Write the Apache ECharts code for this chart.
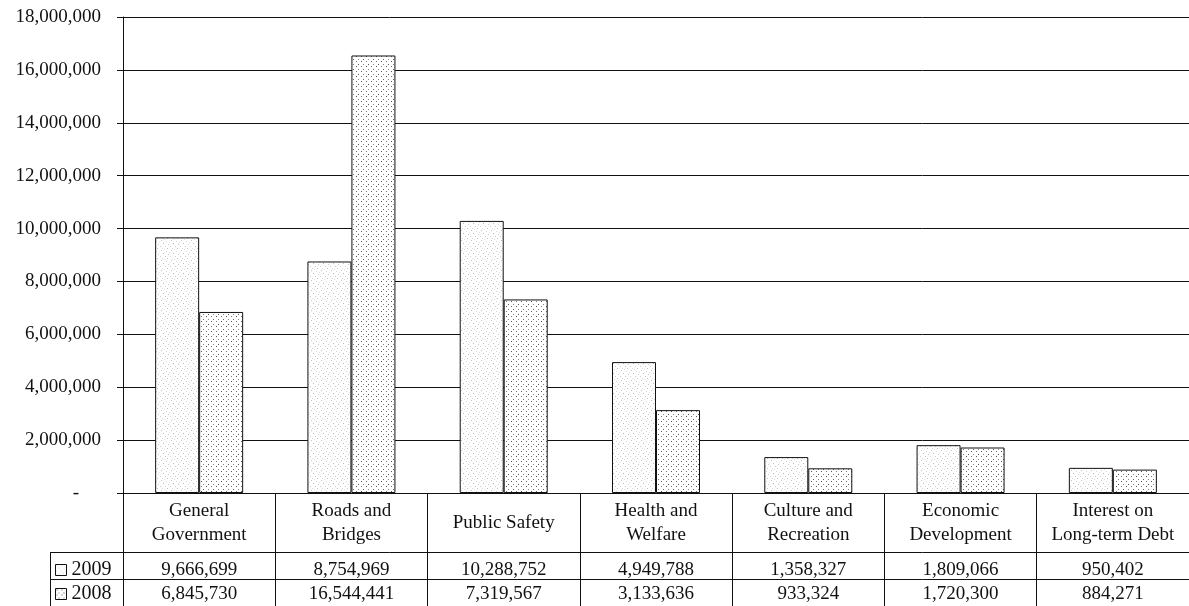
<!DOCTYPE html>
<html><head><meta charset="utf-8">
<script src="https://cdn.jsdelivr.net/npm/echarts@6/dist/echarts.min.js"></script>
<style>html,body{margin:0;padding:0;background:#fff}#c{width:1189px;height:606px}</style>
</head><body><div id="c"></div>
<script>
const categories = ['General\nGovernment', 'Roads and\nBridges', 'Public Safety', 'Health and\nWelfare', 'Culture and\nRecreation', 'Economic\nDevelopment', 'Interest on\nLong-term Debt'];
const values2009 = [9666699, 8754969, 10288752, 4949788, 1358327, 1809066, 950402];
const values2008 = [6845730, 16544441, 7319567, 3133636, 933324, 1720300, 884271];
const seriesNames = ['2009', '2008'];
const yMin = 0, yMax = 18000000, yInterval = 2000000;

const FONT = 'Liberation Serif';
const fmt = v => v.toLocaleString('en-US');

function makePattern(size, dots) {
  const c = document.createElement('canvas');
  c.width = size; c.height = size;
  const g = c.getContext('2d');
  g.fillStyle = '#fff'; g.fillRect(0, 0, size, size);
  dots.forEach(d => { g.fillStyle = d[2]; g.fillRect(d[0], d[1], 1, 1); });
  return c;
}
const pat2009 = makePattern(10, [[1,0,'#c4c4c4'],[6,1,'#d4d4d4'],[3,3,'#bbb'],[8,4,'#ccc'],[0,6,'#d0d0d0'],[5,6,'#c8c8c8'],[2,8,'#d8d8d8'],[7,8,'#c0c0c0'],[9,2,'#e0e0e0'],[4,9,'#ddd']]);
const pat2008 = makePattern(10, [[1,1,'#555'],[6,1,'#777'],[3,4,'#888'],[8,4,'#555'],[1,6,'#777'],[6,6,'#555'],[3,9,'#666'],[8,9,'#888']]);

const chart = echarts.init(document.getElementById('c'), null, {renderer: 'canvas'});
const lineStyle = {color: '#111', width: 1};
const labelBase = {fontFamily: FONT, fontSize: 19, color: '#111'};

const legendBase = {
  orient: 'horizontal', left: 55, padding: 0, icon: 'rect', itemWidth: 11, itemHeight: 11,
  selectedMode: false, textStyle: Object.assign({}, labelBase, {fontSize: 20}),
  itemStyle: {borderColor: '#111', borderWidth: 1}
};

chart.setOption({
  animation: false,
  grid: {left: 123, right: 0, top: 17, bottom: 113, containLabel: false},
  legend: [
    Object.assign({}, legendBase, {data: [seriesNames[0]], top: 560}),
    Object.assign({}, legendBase, {data: [seriesNames[1]], top: 584})
  ],
  xAxis: [
    {type: 'category', data: categories, position: 'bottom',
     axisLine: {show: true, lineStyle},
     axisTick: {show: true, interval: 0, length: 113, lineStyle},
     axisLabel: Object.assign({}, labelBase, {interval: 0, margin: 30, verticalAlign: 'middle', lineHeight: 24, align: 'center'}),
     splitLine: {show: false}},
    {type: 'category', data: categories, position: 'bottom', offset: 59,
     axisLine: {show: true, lineStyle}, axisTick: {show: false},
     axisLabel: Object.assign({}, labelBase, {interval: 0, margin: 18, verticalAlign: 'middle', formatter: (v, i) => fmt(values2009[i])})},
    {type: 'category', data: categories, position: 'bottom', offset: 86,
     axisLine: {show: true, lineStyle}, axisTick: {show: false},
     axisLabel: Object.assign({}, labelBase, {interval: 0, margin: 15, verticalAlign: 'middle', formatter: (v, i) => fmt(values2008[i])})}
  ],
  yAxis: {
    type: 'value', min: yMin, max: yMax, interval: yInterval,
    axisLine: {show: true, lineStyle},
    axisTick: {show: true, length: 6, lineStyle},
    splitLine: {show: true, lineStyle},
    axisLabel: Object.assign({}, labelBase, {
      margin: 22,
      formatter: v => v === 0 ? '{d|-}' : fmt(v),
      rich: {d: Object.assign({}, labelBase, {padding: [0, 22, 0, 0]})}
    })
  },
  series: [
    {name: seriesNames[0], type: 'bar', data: values2009, barWidth: 44, barGap: '0%',
     itemStyle: {color: {image: pat2009, repeat: 'repeat'}, borderColor: '#111', borderWidth: 1},
     emphasis: {disabled: true}},
    {name: seriesNames[1], type: 'bar', data: values2008, barWidth: 44, barGap: '0%',
     itemStyle: {color: {image: pat2008, repeat: 'repeat'}, borderColor: '#111', borderWidth: 1},
     emphasis: {disabled: true}}
  ],
  graphic: [
    {type: 'line', shape: {x1: 50, y1: 552.5, x2: 123, y2: 552.5}, style: {stroke: '#111', lineWidth: 1}},
    {type: 'line', shape: {x1: 50, y1: 579.5, x2: 123, y2: 579.5}, style: {stroke: '#111', lineWidth: 1}},
    {type: 'line', shape: {x1: 50.5, y1: 552, x2: 50.5, y2: 606}, style: {stroke: '#111', lineWidth: 1}}
  ]
});
</script></body></html>
